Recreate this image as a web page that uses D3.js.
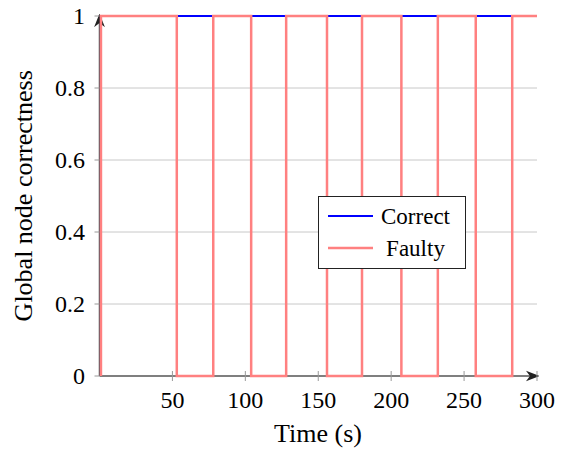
<!DOCTYPE html>
<html><head><meta charset="utf-8">
<script src="https://cdn.jsdelivr.net/npm/d3@7"></script>
<style>
body{margin:0;background:#fff;}
#wrap{position:relative;width:576px;height:451px;}
#wrap svg{position:absolute;left:0;top:0;}
.lbl{position:absolute;color:#000;white-space:nowrap;}
</style>
</head><body><div id="wrap"><svg id="c" width="576" height="451"></svg></div>
<script>
const xTicks = [50, 100, 150, 200, 250, 300];
const yTicks = [0, 0.2, 0.4, 0.6, 0.8, 1];
const yTickLabels = ["0", "0.2", "0.4", "0.6", "0.8", "1"];
const correctTime = [1, 1, 300];
const correctValue = [0, 1, 1];
const faultyTime = [1, 1, 53, 53, 78, 78, 104, 104, 128, 128, 156, 156, 180, 180, 207, 207, 232, 232, 258, 258, 283, 283, 300];
const faultyValue = [0, 1, 1, 0, 0, 1, 1, 0, 0, 1, 1, 0, 0, 1, 1, 0, 0, 1, 1, 0, 0, 1, 1];
const seriesNames = ["Correct", "Faulty"];
const seriesColors = ["#0000ff", "#ff8080"];

const wrap = d3.select("#wrap");
const svg = d3.select("#c");
const x = d3.scaleLinear().domain([0, 300]).range([99.5, 537]);
const y = d3.scaleLinear().domain([0, 1]).range([376, 16]);

function label(txt, bx, by, size, anchor, rotate) {
  const top = by - 0.8375 * size;
  const tx = anchor === "middle" ? "-50%" : anchor === "end" ? "-100%" : "0";
  const d = wrap.append("div").attr("class", "lbl").text(txt)
    .attr("style", "font:" + size + "px/1 'Liberation Serif';left:" + bx + "px;top:" + top + "px;");
  if (rotate) {
    d.style("transform-origin", "0 " + (0.8375 * size) + "px")
     .style("transform", "rotate(-90deg) translateX(-50%)");
  } else {
    d.style("transform", "translateX(" + tx + ")");
  }
  return d;
}

svg.append("g").selectAll("line").data(yTicks.slice(1)).join("line")
  .attr("x1", x(0)).attr("x2", x(300)).attr("y1", d => y(d)).attr("y2", d => y(d))
  .attr("stroke", "#c8c8c8").attr("stroke-width", 1);

const axisCol = "#555";
svg.append("defs").append("marker").attr("id", "arr").attr("viewBox", "0 0 10 10")
  .attr("refX", 9).attr("refY", 5).attr("markerWidth", 9).attr("markerHeight", 9).attr("orient", "auto")
  .append("path").attr("d", "M0,1 L10,5 L0,9 L3,5 Z").attr("fill", "#222");
svg.append("line").attr("x1", x(0)).attr("x2", x(300) + 1).attr("y1", y(0)).attr("y2", y(0))
  .attr("stroke", axisCol).attr("stroke-width", 1.5).attr("marker-end", "url(#arr)");
svg.append("line").attr("x1", x(0)).attr("x2", x(0)).attr("y1", y(0)).attr("y2", y(1) - 1)
  .attr("stroke", axisCol).attr("stroke-width", 1.5).attr("marker-end", "url(#arr)");

svg.append("g").selectAll("line").data(xTicks).join("line")
  .attr("x1", d => x(d)).attr("x2", d => x(d)).attr("y1", y(0) - 5).attr("y2", y(0) + 5)
  .attr("stroke", "#999").attr("stroke-width", 1);
svg.append("g").selectAll("line").data(yTicks).join("line")
  .attr("x1", x(0) - 5).attr("x2", x(0)).attr("y1", d => y(d)).attr("y2", d => y(d))
  .attr("stroke", "#999").attr("stroke-width", 1);

xTicks.forEach(t => label(String(t), x(t), 408, 24, "middle"));
yTicks.forEach((t, i) => label(yTickLabels[i], 85, y(t) + 8, 24, "end"));

label("Time (s)", 318, 443, 26, "middle");
label("Global node correctness", 33, 196, 26, "middle", true);

const line = d3.line().x(d => x(d[0])).y(d => y(d[1]));
svg.append("path").datum(correctTime.map((t, i) => [t, correctValue[i]]))
  .attr("d", line).attr("fill", "none").attr("stroke", seriesColors[0]).attr("stroke-width", 2);
svg.append("path").datum(faultyTime.map((t, i) => [t, faultyValue[i]]))
  .attr("d", line).attr("fill", "none").attr("stroke", seriesColors[1]).attr("stroke-width", 2.5);

const lg = svg.append("g");
lg.append("rect").attr("x", 318.5).attr("y", 196.5).attr("width", 147).attr("height", 72)
  .attr("fill", "#fff").attr("stroke", "#222").attr("stroke-width", 1);
seriesNames.forEach((n, i) => {
  const cy = 216 + i * 32;
  lg.append("line").attr("x1", 328).attr("x2", 373).attr("y1", cy).attr("y2", cy)
    .attr("stroke", seriesColors[i]).attr("stroke-width", i ? 2.5 : 2);
  label(n, 415.5, cy + 8, 23, "middle");
});
</script></body></html>
